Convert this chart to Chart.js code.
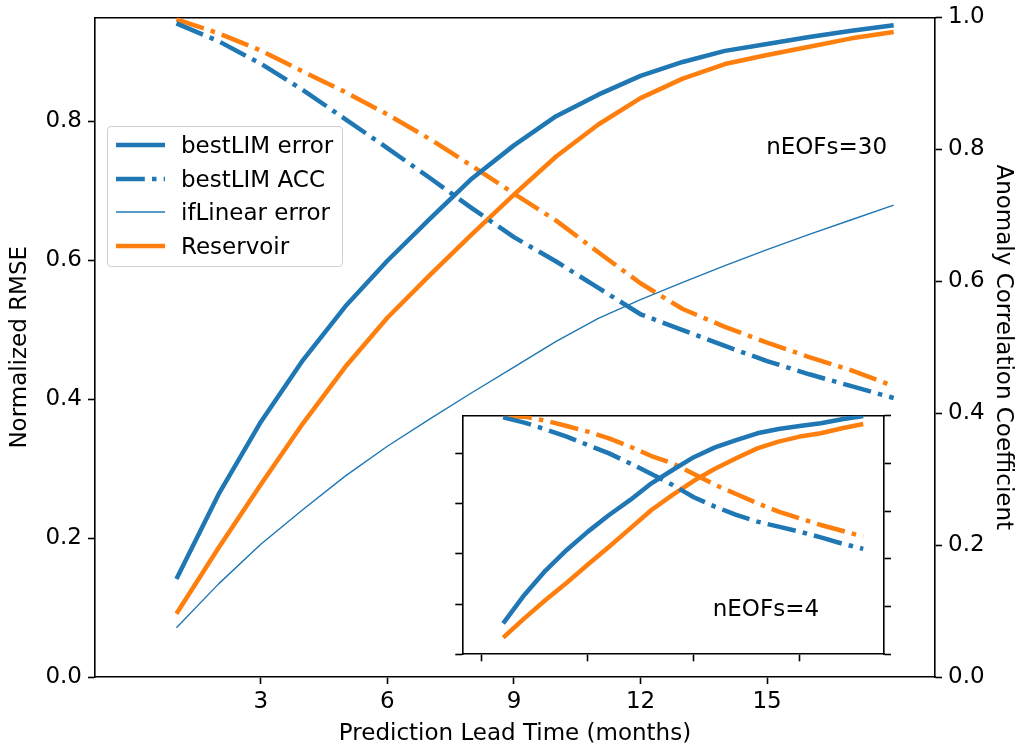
<!DOCTYPE html>
<html>
<head>
<meta charset="utf-8">
<script src="https://cdn.jsdelivr.net/npm/chart.js@4.4.0/dist/chart.umd.min.js"></script>
<style>
  html, body { margin: 0; padding: 0; background: #fff; }
  #wrap { position: relative; width: 1018px; height: 748px; font-family: "DejaVu Sans", sans-serif; }
  #main { position: absolute; left: 0; top: 0; }
  #inset { position: absolute; left: 440px; top: 400px; }
  #legend {
    position: absolute; left: 107px; top: 126px; width: 234px; height: 139px;
    border: 1px solid #d0d0d0; border-radius: 4px; background: rgba(255,255,255,0.8);
    font-size: 23px; color: #000; box-sizing: content-box;
  }
  #legend .row { position: absolute; left: 0; height: 34px; display: flex; align-items: center; white-space: nowrap; }
  #legend svg { margin-left: 8px; margin-right: 16px; }
</style>
</head>
<body>
<div id="wrap">
  <canvas id="main" width="1018" height="748"></canvas>
  <div id="legend"></div>
  <canvas id="inset" width="470" height="270"></canvas>
</div>
<script>
// lead times (months)
const leadMonths = [1, 2, 3, 4, 5, 6, 7, 8, 9, 10, 11, 12, 13, 14, 15, 16, 17, 18];

// nEOFs = 30
const bestLimError   = [0.141, 0.263, 0.367, 0.456, 0.533, 0.599, 0.659, 0.717, 0.765, 0.807, 0.838, 0.865, 0.885, 0.901, 0.911, 0.921, 0.930, 0.938];
const bestLimAcc     = [0.991, 0.964, 0.930, 0.890, 0.846, 0.802, 0.757, 0.711, 0.667, 0.630, 0.590, 0.550, 0.526, 0.502, 0.479, 0.459, 0.441, 0.423];
const ifLinearError  = [0.071, 0.134, 0.191, 0.241, 0.289, 0.332, 0.371, 0.409, 0.446, 0.483, 0.516, 0.543, 0.568, 0.592, 0.615, 0.637, 0.658, 0.679];
const reservoirError = [0.091, 0.186, 0.277, 0.365, 0.446, 0.517, 0.578, 0.637, 0.694, 0.749, 0.795, 0.833, 0.861, 0.882, 0.895, 0.907, 0.919, 0.928];
const reservoirAcc   = [0.997, 0.976, 0.950, 0.918, 0.887, 0.853, 0.816, 0.775, 0.733, 0.692, 0.644, 0.597, 0.558, 0.531, 0.507, 0.485, 0.465, 0.441];

// nEOFs = 4 (inset)
const bestLimError4   = [0.123, 0.236, 0.333, 0.415, 0.488, 0.554, 0.614, 0.680, 0.733, 0.784, 0.823, 0.852, 0.879, 0.896, 0.908, 0.919, 0.935, 0.948];
const bestLimAcc4     = [0.993, 0.971, 0.943, 0.912, 0.877, 0.842, 0.800, 0.756, 0.710, 0.658, 0.619, 0.584, 0.556, 0.535, 0.514, 0.490, 0.464, 0.442];
const reservoirError4 = [0.066, 0.143, 0.216, 0.285, 0.357, 0.428, 0.501, 0.574, 0.634, 0.690, 0.738, 0.780, 0.819, 0.846, 0.866, 0.879, 0.899, 0.916];
const reservoirAcc4   = [0.998, 0.996, 0.979, 0.957, 0.933, 0.905, 0.870, 0.831, 0.800, 0.756, 0.710, 0.672, 0.633, 0.598, 0.570, 0.542, 0.518, 0.493];

// ticks
const mainXTicks  = [3, 6, 9, 12, 15];
const insetXTicks = [0, 5, 10, 15];
const rmseTicks   = [0, 0.2, 0.4, 0.6, 0.8];
const accTicks    = [0, 0.2, 0.4, 0.6, 0.8, 1.0];

const X_MIN = -0.93, X_MAX = 18.98, RMSE_MAX = 0.949;

const BLUE = '#1f77b4', ORANGE = '#ff7f0e';
const THICK = 4.5, THIN = 1.4;
const DASHDOT = [28.8, 7.2, 4.5, 7.2];
const FONT = { family: '"DejaVu Sans", sans-serif', size: 23 };
const TICK_FONT = { family: '"DejaVu Sans", sans-serif', size: 23, lineHeight: 1 };

function pts(ys) { return leadMonths.map((m, i) => ({ x: m, y: ys[i] })); }

function line(label, ys, color, axis, width, dash) {
  return {
    label: label, data: pts(ys), yAxisID: axis,
    borderColor: color, backgroundColor: color, borderWidth: width,
    borderDash: dash || [], borderCapStyle: 'butt',
    borderJoinStyle: 'round', pointRadius: 0, tension: 0, fill: false
  };
}

function fixedTicks(list) {
  return function (scale) { scale.ticks = list.map(v => ({ value: v })); };
}

const spine = { color: '#000', width: 1.6 };
const tickGrid = { drawOnChartArea: false, drawTicks: true, tickLength: 7, tickWidth: 1.6, tickColor: '#000' };

// white axes background + corner annotation
const noteFill = {
  id: 'noteFill',
  beforeDraw(chart) {
    const a = chart.chartArea, ctx = chart.ctx;
    ctx.save();
    ctx.fillStyle = '#fff';
    ctx.fillRect(a.left, a.top, a.right - a.left, a.bottom - a.top);
    ctx.restore();
  },
  afterDatasetsDraw(chart, args, opts) {
    if (!opts.text) return;
    const a = chart.chartArea, ctx = chart.ctx;
    ctx.save();
    ctx.font = '23px "DejaVu Sans", sans-serif';
    ctx.fillStyle = '#000';
    ctx.textAlign = opts.align;
    ctx.textBaseline = 'middle';
    ctx.fillText(opts.text, a.left + opts.fx * (a.right - a.left), a.top + opts.fy * (a.bottom - a.top));
    ctx.restore();
  }
};

const mainChart = new Chart(document.getElementById('main'), {
  type: 'line',
  data: {
    datasets: [
      line('bestLIM error', bestLimError, BLUE, 'y', THICK),
      line('bestLIM ACC', bestLimAcc, BLUE, 'y1', THICK, DASHDOT),
      line('ifLinear error', ifLinearError, BLUE, 'y', THIN),
      line('Reservoir', reservoirError, ORANGE, 'y', THICK),
      line('Reservoir ACC', reservoirAcc, ORANGE, 'y1', THICK, DASHDOT)
    ]
  },
  plugins: [noteFill],
  options: {
    responsive: false,
    animation: false,
    layout: { padding: 0 },
    plugins: {
      legend: { display: false },
      tooltip: { enabled: false },
      noteFill: { text: 'nEOFs=30', fx: 0.943, fy: 0.198, align: 'right' }
    },
    scales: {
      x: {
        type: 'linear', position: 'bottom', min: X_MIN, max: X_MAX,
        afterBuildTicks: fixedTicks(mainXTicks),
        afterFit: s => { s.height = 71; },
        ticks: { font: TICK_FONT, color: '#000', padding: 7, maxRotation: 0, callback: v => String(v) },
        grid: tickGrid, border: spine,
        title: { display: true, text: 'Prediction Lead Time (months)', font: FONT, color: '#000', padding: { top: 0, bottom: 0 } }
      },
      xTop: {
        type: 'linear', position: 'top', min: X_MIN, max: X_MAX,
        afterFit: s => { s.height = 14; },
        ticks: { display: false },
        grid: { drawOnChartArea: false, drawTicks: false }, border: spine
      },
      y: {
        type: 'linear', position: 'left', min: 0, max: RMSE_MAX,
        afterBuildTicks: fixedTicks(rmseTicks),
        afterFit: s => { s.width = 95; },
        ticks: { font: TICK_FONT, color: '#000', padding: 6, callback: v => v.toFixed(1) },
        grid: tickGrid, border: spine,
        title: { display: true, text: 'Normalized RMSE', font: FONT, color: '#000', padding: { top: 6, bottom: 0 } }
      },
      y1: {
        type: 'linear', position: 'right', min: 0, max: 1,
        afterBuildTicks: fixedTicks(accTicks),
        afterFit: s => { s.width = 83; },
        ticks: { font: TICK_FONT, color: '#000', padding: 6, callback: v => v.toFixed(1) },
        grid: tickGrid, border: spine,
        title: { display: true, text: 'Anomaly Correlation Coefficient', font: FONT, color: '#000', padding: { top: 1, bottom: 0 } }
      }
    }
  }
});

// legend entries taken from the main chart datasets
const legendBox = document.getElementById('legend');
mainChart.data.datasets.filter(ds => ds.label !== 'Reservoir ACC').forEach((ds, i) => {
  const row = document.createElement('div');
  row.className = 'row';
  row.style.top = (1 + i * 33.7) + 'px';
  const dash = ds.borderDash.length ? ds.borderDash.join(' ') : 'none';
  row.innerHTML = '<svg width="49" height="12"><line x1="0" y1="6" x2="49" y2="6" stroke="' + ds.borderColor +
    '" stroke-width="' + ds.borderWidth + '" stroke-dasharray="' + dash + '"/></svg><span>' + ds.label + '</span>';
  legendBox.appendChild(row);
});

const blankTicks = { display: false };

new Chart(document.getElementById('inset'), {
  type: 'line',
  data: {
    datasets: [
      line('bestLIM error', bestLimError4, BLUE, 'y', THICK),
      line('bestLIM ACC', bestLimAcc4, BLUE, 'y1', THICK, DASHDOT),
      line('Reservoir', reservoirError4, ORANGE, 'y', THICK),
      line('Reservoir ACC', reservoirAcc4, ORANGE, 'y1', THICK, DASHDOT)
    ]
  },
  plugins: [noteFill],
  options: {
    responsive: false,
    animation: false,
    layout: { padding: 0 },
    plugins: {
      legend: { display: false },
      tooltip: { enabled: false },
      noteFill: { text: 'nEOFs=4', fx: 0.72, fy: 0.814, align: 'center' }
    },
    scales: {
      x: {
        type: 'linear', position: 'bottom', min: X_MIN, max: X_MAX,
        afterBuildTicks: fixedTicks(insetXTicks),
        afterFit: s => { s.height = 15.7; },
        ticks: blankTicks, grid: tickGrid, border: spine
      },
      xTop: {
        type: 'linear', position: 'top', min: X_MIN, max: X_MAX,
        afterFit: s => { s.height = 15.7; },
        ticks: blankTicks,
        grid: { drawOnChartArea: false, drawTicks: false }, border: spine
      },
      y: {
        type: 'linear', position: 'left', min: 0, max: RMSE_MAX,
        afterBuildTicks: fixedTicks(rmseTicks),
        afterFit: s => { s.width = 22.3; },
        ticks: blankTicks, grid: tickGrid, border: spine
      },
      y1: {
        type: 'linear', position: 'right', min: 0, max: 1,
        afterBuildTicks: fixedTicks(accTicks),
        afterFit: s => { s.width = 26; },
        ticks: blankTicks, grid: tickGrid, border: spine
      }
    }
  }
});
</script>
</body>
</html>
